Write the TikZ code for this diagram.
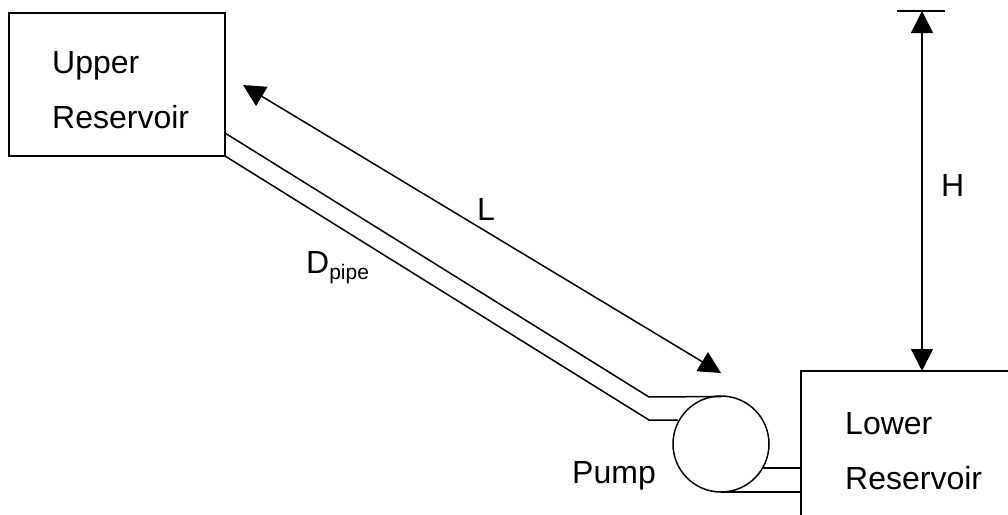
\documentclass[tikz,border=0pt]{standalone}
\usepackage{fontspec}
\setmainfont{Liberation Sans}
\usetikzlibrary{arrows.meta}
\tikzset{
  box/.style={draw=black,line width=1.5pt,fill=white,rectangle,inner sep=0pt,outer sep=0pt,anchor=north west},
  pumpshape/.style={draw=black,line width=1.5pt,circle,inner sep=0pt,outer sep=0pt,minimum size=96pt},
  label/.style={inner sep=0pt,anchor=base west,font=\fontsize{32}{32}\selectfont},
  pipe/.style={draw=black,line width=1.5pt,line join=round},
  dim/.style={draw=black,line width=1.5pt,{Triangle[length=22pt,width=22pt]}-{Triangle[length=22pt,width=22pt]}},
  bar/.style={draw=black,line width=1.5pt}
}
\begin{document}
\begin{tikzpicture}[x=1pt,y=-1pt]
\path[use as bounding box] (0,0) rectangle (1008,514);
\clip (0,0) rectangle (1008,514);
% boxes
\node[box,minimum width=216pt,minimum height=143pt] (upper) at (9,13) {};
\node[box,minimum width=260pt,minimum height=200pt] (lower) at (801,371) {};
\node[pumpshape] (pump) at (721,444) {};
% pipe bends and ends
\coordinate (ua) at (225,133);
\coordinate (ub) at (225,156);
\coordinate (ba) at (649,397);
\coordinate (bb) at (649,420);
\coordinate (pa) at (721,396.5);
\coordinate (pb) at (678,420);
\coordinate (pc) at (762,468);
\coordinate (pd) at (721,492);
\coordinate (la) at (801,468);
\coordinate (lb) at (801,492);
\draw[pipe] (ua) -- (ba) -- (pa);
\draw[pipe] (ub) -- (bb) -- (pb);
\draw[pipe] (pc) -- (la);
\draw[pipe] (pd) -- (lb);
% dimensions
\coordinate (lstart) at (243,85);
\coordinate (lend) at (721,373);
\draw[dim] (lstart) -- (lend);
\coordinate (htop) at (922,11);
\coordinate (hbot) at (922,371);
\coordinate (barl) at (897,11);
\coordinate (barr) at (945,11);
\draw[dim] (htop) -- (hbot);
\draw[bar] (barl) -- (barr);
% labels
\node[label] (t1) at (52,73) {Upper};
\node[label] (t2) at (52,128) {Reservoir};
\node[label] (t3) at (845,434) {Lower};
\node[label] (t4) at (845,489) {Reservoir};
\node[label] (t5) at (477,220) {L};
\node[label] (t6) at (941,196) {H};
\node[label] (t7) at (306,273) {D\raisebox{-6pt}{\fontsize{21}{21}\selectfont pipe}};
\node[label] (t8) at (572,483) {Pump};
\end{tikzpicture}
\end{document}
